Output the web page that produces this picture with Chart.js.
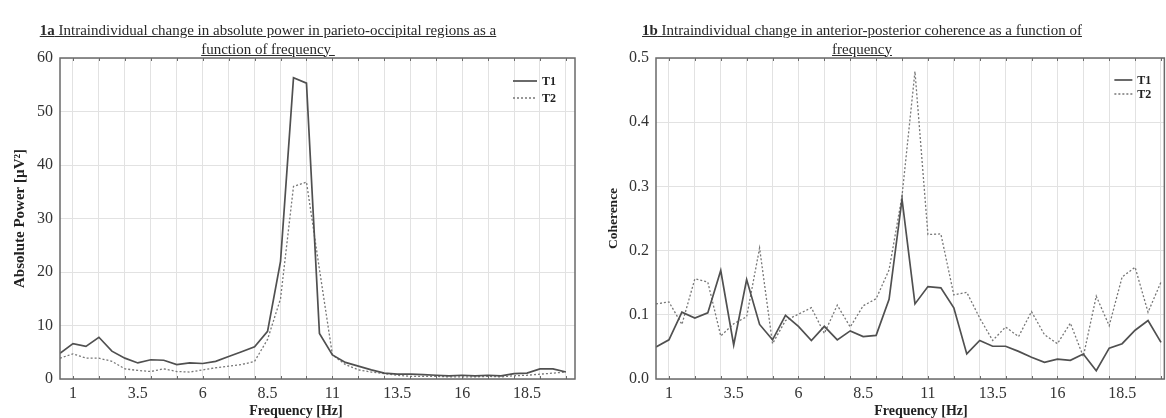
<!DOCTYPE html>
<html>
<head>
<meta charset="utf-8">
<script src="https://cdn.jsdelivr.net/npm/chart.js@4/dist/chart.umd.min.js"></script>
<style>
  body { margin: 0; background: #fff; width: 1166px; height: 418px; position: relative; overflow: hidden;
         font-family: "Liberation Serif", "Times New Roman", serif; color: #333; }
  .title { position: absolute; top: 21px; font-size: 15px; line-height: 18.5px; text-align: center;
           white-space: nowrap; text-decoration: underline; color: #2a2a2a; }
  .xt { position: absolute; top: 403px; font-weight: bold; font-size: 14px; white-space: nowrap;
        transform: translateX(-50%); color: #222; }
  .box { position: absolute; top: 0; width: 583px; height: 418px; }
</style>
</head>
<body>
<div class="box" style="left:0"><canvas id="c1" width="583" height="418"></canvas></div>
<div class="box" style="left:583px"><canvas id="c2" width="583" height="418"></canvas></div>

<div class="title" style="left:0;width:536px"><b>1a</b> Intraindividual change in absolute power in parieto-occipital regions as a<br>function of frequency&nbsp;</div>
<div class="title" style="left:583px;width:558px"><b>1b</b> Intraindividual change in anterior-posterior coherence as a function of<br>frequency</div>
<div class="xt" style="left:296px">Frequency [Hz]</div>
<div class="xt" style="left:921px">Frequency [Hz]</div>

<script>
// frequencies in Hz
const freqs = [0.5, 1, 1.5, 2, 2.5, 3, 3.5, 4, 4.5, 5, 5.5, 6, 6.5, 7, 7.5, 8, 8.5, 9, 9.5, 10,
  10.5, 11, 11.5, 12, 12.5, 13, 13.5, 14, 14.5, 15, 15.5, 16, 16.5, 17, 17.5, 18, 18.5, 19, 19.5, 20];

// 1a absolute power [µV²]
const powerT1 = [4.8, 6.6, 6.1, 7.8, 5.2, 3.9, 3.0, 3.6, 3.5, 2.7, 3.0, 2.9, 3.3, 4.2, 5.1, 6.0, 8.9, 22.0, 56.3, 55.3,
  8.5, 4.5, 3.1, 2.4, 1.7, 1.1, 0.9, 0.9, 0.8, 0.7, 0.6, 0.7, 0.6, 0.7, 0.6, 1.0, 1.1, 1.9, 1.9, 1.3];
const powerT2 = [3.9, 4.7, 3.9, 3.9, 3.3, 1.9, 1.6, 1.4, 1.9, 1.4, 1.3, 1.7, 2.1, 2.4, 2.7, 3.3, 7.4, 15.0, 36.0, 36.8,
  20.5, 4.5, 2.7, 1.7, 1.3, 1.0, 0.7, 0.5, 0.5, 0.5, 0.4, 0.4, 0.4, 0.5, 0.4, 0.6, 0.7, 0.9, 1.1, 1.3];

// 1b coherence
const cohT1 = [0.050, 0.061, 0.104, 0.095, 0.103, 0.169, 0.053, 0.155, 0.085, 0.061, 0.099, 0.082, 0.060, 0.082, 0.061, 0.075, 0.066, 0.068, 0.124, 0.280,
  0.117, 0.144, 0.142, 0.111, 0.039, 0.060, 0.051, 0.051, 0.043, 0.034, 0.026, 0.031, 0.029, 0.039, 0.013, 0.048, 0.055, 0.076, 0.091, 0.057];
const cohT2 = [0.117, 0.120, 0.085, 0.156, 0.151, 0.067, 0.086, 0.097, 0.204, 0.055, 0.091, 0.101, 0.111, 0.071, 0.115, 0.081, 0.114, 0.125, 0.170, 0.285,
  0.479, 0.225, 0.226, 0.131, 0.135, 0.095, 0.060, 0.081, 0.066, 0.105, 0.069, 0.055, 0.087, 0.035, 0.129, 0.083, 0.159, 0.174, 0.104, 0.151];

const seriesNames = ['T1', 'T2'];
const freqLabels = [1, 3.5, 6, 8.5, 11, 13.5, 16, 18.5];
const freqGrid = [1, 2, 3, 4, 5, 6, 7, 8, 9, 10, 11, 12, 13, 14, 15, 16, 17, 18, 19, 20];
const powerTicks = [0, 10, 20, 30, 40, 50, 60];
const cohTicks = [0, 0.1, 0.2, 0.3, 0.4, 0.5];

Chart.defaults.font.family = '"Liberation Serif", "Times New Roman", serif';
Chart.defaults.color = '#333';

// frame, inward tick marks and the small legend in the top right corner
const frame = {
  id: 'frame',
  afterDatasetsDraw(chart, args, opts) {
    const { ctx, chartArea: a, scales } = chart;
    ctx.save();
    ctx.strokeStyle = '#6a6a6a';
    ctx.lineWidth = 1;
    freqGrid.forEach(v => {
      const x = Math.round(scales.x.getPixelForValue(v)) + 0.5;
      ctx.beginPath();
      ctx.moveTo(x, a.top); ctx.lineTo(x, a.top + 3);
      ctx.moveTo(x, a.bottom); ctx.lineTo(x, a.bottom - 3);
      ctx.stroke();
    });
    ctx.lineWidth = 1.5;
    ctx.strokeRect(a.left, a.top, a.right - a.left, a.bottom - a.top);

    chart.data.datasets.forEach((ds, i) => {
      const y = a.top + opts.y0 + i * opts.dy;
      ctx.strokeStyle = ds.borderColor;
      ctx.lineWidth = ds.borderWidth;
      ctx.setLineDash(ds.borderDash || []);
      ctx.beginPath();
      ctx.moveTo(a.right - opts.x0, y);
      ctx.lineTo(a.right - opts.x1, y);
      ctx.stroke();
      ctx.setLineDash([]);
      ctx.fillStyle = '#222';
      ctx.font = 'bold 12px "Liberation Serif", serif';
      ctx.textBaseline = 'middle';
      ctx.fillText(ds.label, a.right - opts.tx, y + 1);
    });
    ctx.restore();
  }
};

function makeChart(id, t1, t2, yTicks, yMax, yTitle, fmt, lay) {
  return new Chart(document.getElementById(id), {
    type: 'line',
    data: {
      labels: freqs,
      datasets: [
        { label: seriesNames[0], data: freqs.map((f, i) => ({ x: f, y: t1[i] })),
          borderColor: '#505050', borderWidth: 1.7, pointRadius: 0, tension: 0 },
        { label: seriesNames[1], data: freqs.map((f, i) => ({ x: f, y: t2[i] })),
          borderColor: '#777', borderWidth: 1.3, borderDash: [2, 2], pointRadius: 0, tension: 0 }
      ]
    },
    options: {
      responsive: false,
      animation: false,
      devicePixelRatio: 1,
      layout: { padding: { top: 58, right: lay.right, bottom: 0, left: 0 } },
      plugins: {
        legend: { display: false },
        tooltip: { enabled: false },
        frame: lay.legend
      },
      scales: {
        x: {
          type: 'linear', min: 0.5, max: lay.xMax,
          afterBuildTicks: s => {
            s.ticks = freqGrid.concat(freqLabels).filter((v, i, arr) => arr.indexOf(v) === i)
              .sort((p, q) => p - q).map(v => ({ value: v }));
          },
          afterFit: s => { s.height = 39; },
          border: { display: false },
          grid: {
            drawTicks: false,
            color: c => (c.tick && Number.isInteger(c.tick.value)) ? '#e2e2e2' : 'rgba(0,0,0,0)'
          },
          ticks: {
            autoSkip: false, maxRotation: 0, padding: 5,
            font: { size: 16 }, color: '#333',
            callback: v => freqLabels.includes(v) ? String(v) : ''
          }
        },
        y: {
          min: 0, max: yMax,
          afterBuildTicks: s => { s.ticks = yTicks.map(v => ({ value: v })); },
          afterFit: s => { s.width = lay.yWidth; },
          border: { display: false },
          grid: { drawTicks: false, color: '#e2e2e2' },
          ticks: { padding: 7, font: { size: 16 }, color: '#333', callback: fmt },
          title: {
            display: true, text: yTitle, color: '#222',
            font: { size: lay.titleSize, weight: 'bold' },
            padding: { top: lay.titlePad, bottom: 0 }
          }
        }
      }
    },
    plugins: [frame]
  });
}

makeChart('c1', powerT1, powerT2, powerTicks, 60, 'Absolute Power [µV²]', v => String(v),
  { right: 8, xMax: 20.35, yWidth: 60, titlePad: 11, titleSize: 15,
    legend: { x0: 62, x1: 38, tx: 33, y0: 23, dy: 17 } });

makeChart('c2', cohT1, cohT2, cohTicks, 0.5, 'Coherence', v => v.toFixed(1),
  { right: 1, xMax: 20.13, yWidth: 73, titlePad: 22, titleSize: 13.5,
    legend: { x0: 50, x1: 32, tx: 27, y0: 22, dy: 14 } });
</script>
</body>
</html>
